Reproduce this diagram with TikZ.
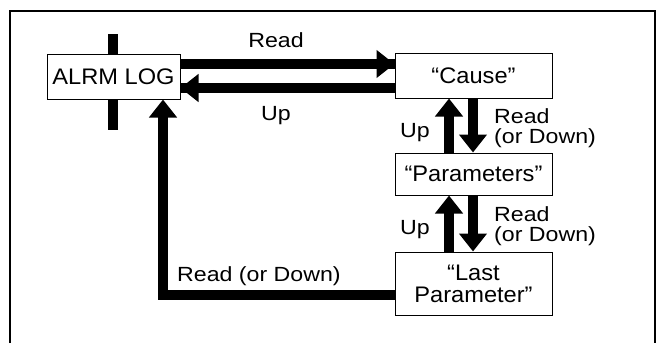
\documentclass[tikz,border=0pt]{standalone}
\usepackage{fontspec}
\setmainfont{Liberation Sans}
\newfontfamily\boxfont[FakeStretch=1.05]{Liberation Sans}
\newfontfamily\lblfont[FakeStretch=1.13]{Liberation Sans}
\usetikzlibrary{arrows.meta}
\begin{document}
\begin{tikzpicture}[x=1pt,y=-1pt,
  box/.style={draw, line width=1pt, fill=white, inner sep=0pt, align=center,
    font=\boxfont\fontsize{22.5}{22}\selectfont},
  lbl/.style={font=\lblfont\fontsize{20.5}{19.5}\selectfont, inner sep=0pt, align=left},
  bar/.style={line width=10pt, line join=miter},
  tip/.style={-{Triangle[width=27pt,length=18pt]}},
  headbar/.style={bar, preaction={draw, line width=10pt, -}, tip},
]
\useasboundingbox (0,0) rectangle (666,343);
\draw[line width=1.2pt] (10,343) -- (10,11) -- (655,11) -- (655,343);

% vertical bar through ALRM LOG
\coordinate (vt) at (113,34);
\coordinate (vb) at (113,130);
\draw[bar] (vt) -- (vb);

\node[box, minimum width=133pt, minimum height=45pt] (alrm) at (113.5,76.5) {ALRM LOG};
\node[box, minimum width=157pt, minimum height=45pt] (cause) at (473.5,75.5) {“Cause”};
\node[box, minimum width=157pt, minimum height=42pt] (params) at (473.5,174) {“Parameters”};
\node[box, minimum width=157pt, minimum height=63pt] (last) at (473.5,283.5) {“Last\\Parameter”};

% horizontal bars
\coordinate (y1) at (0,64);
\coordinate (y2) at (0,88);
\draw[headbar] (alrm.east |- y1) -- (cause.west |- y1);
\draw[headbar] (cause.west |- y2) -- (alrm.east |- y2);

% vertical arrows
\coordinate (xu) at (449,0);
\coordinate (xd) at (473,0);
\draw[bar, tip] (params.north -| xu) -- (cause.south -| xu);
\draw[bar, tip] (cause.south -| xd) -- (params.north -| xd);
\draw[bar, tip] (last.north -| xu) -- (params.south -| xu);
\draw[bar, tip] (params.south -| xd) -- (last.north -| xd);

% return path
\coordinate (corner) at (163,295);
\draw[bar, tip] (last.west |- corner) -- (corner) -- (alrm.south -| corner);

% labels
\node[lbl, anchor=base] (lread) at (276,47) {Read};
\node[lbl, anchor=base] (lup) at (276,120) {Up};
\node[lbl, anchor=base] (up1) at (415,137) {Up};
\node[lbl, anchor=west] (rd1) at (494,128) {Read\\(or Down)};
\node[lbl, anchor=base] (up2) at (415,234) {Up};
\node[lbl, anchor=west] (rd2) at (494,226) {Read\\(or Down)};
\node[lbl, anchor=base west] (rd3) at (177,281) {Read (or Down)};
\end{tikzpicture}
\end{document}
